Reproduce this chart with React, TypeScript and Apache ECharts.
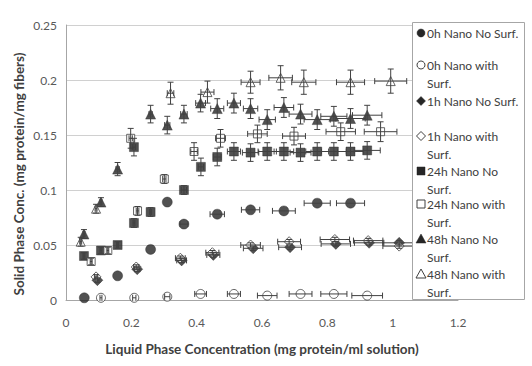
import React, { useEffect, useRef } from "react";
import * as echarts from "echarts";

const xTicks = [0, 0.2, 0.4, 0.6, 0.8, 1, 1.2];
const yTicks = [0, 0.05, 0.1, 0.15, 0.2, 0.25];

// 0h Nano No Surf.
const x0n = [0.056, 0.158, 0.259, 0.31, 0.361, 0.463, 0.565, 0.667, 0.769, 0.871];
const y0n = [0.002, 0.022, 0.046, 0.089, 0.069, 0.078, 0.082, 0.081, 0.088, 0.088];
const xe0n = [0, 0, 0, 0, 0.012, 0.022, 0.028, 0.035, 0.04, 0.043];
const ye0n = [0, 0, 0, 0, 0, 0, 0, 0, 0, 0];

// 0h Nano with Surf.
const x0s = [0.107, 0.209, 0.31, 0.412, 0.514, 0.616, 0.718, 0.82, 0.922];
const y0s = [0.002, 0.002, 0.003, 0.0055, 0.0055, 0.004, 0.0055, 0.0055, 0.004];
const xe0s = [0.003, 0.005, 0.008, 0.018, 0.02, 0.03, 0.035, 0.04, 0.047];
const ye0s = [0, 0, 0, 0, 0, 0, 0, 0, 0];

// 1h Nano No Surf.
const x1n = [0.096, 0.218, 0.354, 0.451, 0.573, 0.686, 0.826, 0.928, 1.02];
const y1n = [0.018, 0.028, 0.036, 0.041, 0.047, 0.048, 0.051, 0.052, 0.052];
const xe1n = [0.005, 0.008, 0.015, 0.02, 0.03, 0.035, 0.045, 0.045, 0.05];
const ye1n = [0.002, 0.002, 0.002, 0.002, 0.002, 0.002, 0.002, 0.002, 0.002];

// 1h Nano with Surf.
const x1s = [0.092, 0.215, 0.35, 0.448, 0.565, 0.683, 0.823, 0.925, 1.02];
const y1s = [0.021, 0.03, 0.038, 0.043, 0.05, 0.053, 0.055, 0.054, 0.049];
const xe1s = [0.005, 0.008, 0.015, 0.02, 0.03, 0.035, 0.045, 0.045, 0.05];
const ye1s = [0.002, 0.002, 0.002, 0.002, 0.002, 0.002, 0.002, 0.002, 0.002];

// 24h Nano No Surf.
const x24n = [0.055, 0.107, 0.158, 0.208, 0.259, 0.361, 0.208, 0.413, 0.463, 0.514, 0.565, 0.616, 0.667, 0.718, 0.769, 0.82, 0.871, 0.922];
const y24n = [0.04, 0.045, 0.05, 0.07, 0.08, 0.1, 0.139, 0.121, 0.13, 0.135, 0.134, 0.135, 0.135, 0.134, 0.135, 0.135, 0.135, 0.136];
const xe24n = [0.003, 0.003, 0.003, 0.003, 0.003, 0.008, 0.005, 0.008, 0.012, 0.02, 0.025, 0.028, 0.03, 0.032, 0.035, 0.038, 0.04, 0.04];
const ye24n = [0.003, 0.003, 0.003, 0.004, 0.004, 0.004, 0.008, 0.008, 0.008, 0.008, 0.008, 0.008, 0.008, 0.008, 0.008, 0.008, 0.008, 0.008];

// 24h Nano with Surf.
const x24s = [0.077, 0.128, 0.219, 0.301, 0.198, 0.392, 0.473, 0.586, 0.698, 0.841, 0.963];
const y24s = [0.035, 0.045, 0.081, 0.11, 0.147, 0.135, 0.147, 0.151, 0.149, 0.153, 0.153];
const xe24s = [0.003, 0.003, 0.004, 0.005, 0.005, 0.01, 0.015, 0.03, 0.035, 0.045, 0.05];
const ye24s = [0.003, 0.003, 0.004, 0.004, 0.009, 0.008, 0.008, 0.008, 0.008, 0.008, 0.009];

// 48h Nano No Surf.
const x48n = [0.055, 0.107, 0.158, 0.259, 0.31, 0.361, 0.412, 0.463, 0.514, 0.565, 0.616, 0.667, 0.718, 0.769, 0.82, 0.871, 0.922];
const y48n = [0.06, 0.089, 0.119, 0.169, 0.159, 0.169, 0.179, 0.174, 0.179, 0.174, 0.164, 0.175, 0.169, 0.164, 0.167, 0.165, 0.168];
const xe48n = [0.003, 0.003, 0.005, 0.005, 0.008, 0.01, 0.015, 0.02, 0.02, 0.022, 0.025, 0.03, 0.035, 0.04, 0.04, 0.045, 0.045];
const ye48n = [0.004, 0.004, 0.006, 0.008, 0.008, 0.008, 0.008, 0.009, 0.009, 0.009, 0.009, 0.009, 0.009, 0.009, 0.009, 0.009, 0.009];

// 48h Nano with Surf.
const x48s = [0.045, 0.092, 0.32, 0.433, 0.565, 0.657, 0.728, 0.871, 0.994];
const y48s = [0.053, 0.083, 0.188, 0.189, 0.198, 0.202, 0.198, 0.198, 0.199];
const xe48s = [0.003, 0.003, 0.01, 0.02, 0.029, 0.036, 0.037, 0.043, 0.049];
const ye48s = [0.004, 0.004, 0.01, 0.01, 0.01, 0.011, 0.011, 0.011, 0.011];

const seriesNames = [
  "0h Nano No Surf.",
  "0h Nano with Surf.",
  "1h Nano No Surf.",
  "1h Nano with Surf.",
  "24h Nano No Surf.",
  "24h Nano with Surf.",
  "48h Nano No Surf.",
  "48h Nano with Surf.",
];

const legendLines = [
  ["0h Nano No Surf."],
  ["0h Nano with", "Surf."],
  ["1h Nano No Surf."],
  ["1h Nano with", "Surf."],
  ["24h Nano No", "Surf."],
  ["24h Nano with", "Surf."],
  ["48h Nano No", "Surf."],
  ["48h Nano with", "Surf."],
];

const DARK = "#262626";
const LINE = "#404040";
const FONT = "Lato, 'Open Sans', sans-serif";

export default function App() {
  const ref = useRef<HTMLDivElement>(null);

  useEffect(() => {
    if (!ref.current) return;
    const chart = echarts.init(ref.current, undefined, { renderer: "svg" });

    const sets = [
      { x: x0n, y: y0n, xe: xe0n, ye: ye0n, symbol: "circle", size: 10, filled: true },
      { x: x0s, y: y0s, xe: xe0s, ye: ye0s, symbol: "circle", size: 9, filled: false },
      { x: x1n, y: y1n, xe: xe1n, ye: ye1n, symbol: "diamond", size: 11, filled: true },
      { x: x1s, y: y1s, xe: xe1s, ye: ye1s, symbol: "diamond", size: 10, filled: false },
      { x: x24n, y: y24n, xe: xe24n, ye: ye24n, symbol: "rect", size: 9, filled: true },
      { x: x24s, y: y24s, xe: xe24s, ye: ye24s, symbol: "rect", size: 8, filled: false },
      { x: x48n, y: y48n, xe: xe48n, ye: ye48n, symbol: "triangle", size: 10, filled: true },
      { x: x48s, y: y48s, xe: xe48s, ye: ye48s, symbol: "triangle", size: 9, filled: false },
    ];

    const series: any[] = [];
    sets.forEach((s, i) => {
      series.push({
        type: "scatter",
        name: seriesNames[i],
        symbol: s.symbol,
        symbolSize: s.size,
        z: 2,
        itemStyle: s.filled
          ? { color: DARK, borderColor: DARK, borderWidth: 0.5 }
          : { color: "#ffffff", borderColor: LINE, borderWidth: 1 },
        data: s.x.map((v, k) => [v, s.y[k]]),
      });
    });
    sets.forEach((s, i) => {
      series.push({
        type: "custom",
        name: seriesNames[i] + " err",
        z: 3,
        encode: { x: 0, y: 1 },
        data: s.x.map((v, k) => [v, s.y[k], s.xe[k], s.ye[k]]),
        renderItem: (params: any, api: any) => {
          const x = api.value(0);
          const y = api.value(1);
          const xe = api.value(2);
          const ye = api.value(3);
          const st = { stroke: LINE, lineWidth: 1, fill: null };
          const children: any[] = [];
          const cap = 3;
          if (xe > 0) {
            const l = api.coord([x - xe, y]);
            const r = api.coord([x + xe, y]);
            children.push({ type: "line", shape: { x1: l[0], y1: l[1], x2: r[0], y2: r[1] }, style: st });
            children.push({ type: "line", shape: { x1: l[0], y1: l[1] - cap, x2: l[0], y2: l[1] + cap }, style: st });
            children.push({ type: "line", shape: { x1: r[0], y1: r[1] - cap, x2: r[0], y2: r[1] + cap }, style: st });
          }
          if (ye > 0) {
            const t = api.coord([x, y + ye]);
            const b = api.coord([x, y - ye]);
            children.push({ type: "line", shape: { x1: t[0], y1: t[1], x2: b[0], y2: b[1] }, style: st });
            children.push({ type: "line", shape: { x1: t[0] - cap, y1: t[1], x2: t[0] + cap, y2: t[1] }, style: st });
            children.push({ type: "line", shape: { x1: b[0] - cap, y1: b[1], x2: b[0] + cap, y2: b[1] }, style: st });
          }
          return { type: "group", children };
        },
      });
    });

    // legend drawn with graphic
    const lx = 421;
    const tx = 427;
    const rowY = [33, 65, 101, 136, 171, 204, 239, 274];
    const lineGap = 18;
    const graphics: any[] = [
      {
        type: "rect",
        shape: { x: 412.5, y: 22.5, width: 112, height: 277 },
        style: { fill: "#ffffff", stroke: "#a6a6a6", lineWidth: 1 },
        z: 10,
      },
    ];
    const symStyle = (filled: boolean) =>
      filled ? { fill: DARK, stroke: DARK, lineWidth: 0.5 } : { fill: "#ffffff", stroke: LINE, lineWidth: 1 };
    rowY.forEach((yy, i) => {
      const filled = i % 2 === 0;
      const kind = Math.floor(i / 2);
      let shape: any;
      if (kind === 0) {
        shape = { type: "circle", shape: { cx: lx, cy: yy, r: 4 }, style: symStyle(filled), z: 11 };
      } else if (kind === 1) {
        shape = {
          type: "polygon",
          shape: { points: [[lx, yy - 4.5], [lx + 4.5, yy], [lx, yy + 4.5], [lx - 4.5, yy]] },
          style: symStyle(filled),
          z: 11,
        };
      } else if (kind === 2) {
        shape = { type: "rect", shape: { x: lx - 4, y: yy - 4, width: 8, height: 8 }, style: symStyle(filled), z: 11 };
      } else {
        shape = {
          type: "polygon",
          shape: { points: [[lx, yy - 5], [lx + 5, yy + 4], [lx - 5, yy + 4]] },
          style: symStyle(filled),
          z: 11,
        };
      }
      graphics.push(shape);
      legendLines[i].forEach((t, k) => {
        graphics.push({
          type: "text",
          x: tx,
          y: yy + k * lineGap,
          z: 11,
          style: {
            text: t,
            fill: "#404040",
            font: `12px ${FONT}`,
            verticalAlign: "middle",
          },
        });
      });
    });
    graphics.push({
      type: "text",
      x: 262,
      y: 349,
      style: {
        text: "Liquid Phase Concentration (mg protein/ml solution)",
        fill: "#404040",
        font: `bold 13.5px ${FONT}`,
        align: "center",
        verticalAlign: "middle",
      },
    });
    graphics.push({
      type: "text",
      x: 19,
      y: 174,
      rotation: Math.PI / 2,
      style: {
        text: "Solid Phase Conc. (mg protein/mg fibers)",
        fill: "#404040",
        font: `bold 13.5px ${FONT}`,
        align: "center",
        verticalAlign: "middle",
      },
    });

    chart.setOption({
      animation: false,
      backgroundColor: "#ffffff",
      grid: { left: 66, right: 74, top: 25, bottom: 66, containLabel: false },
      xAxis: {
        type: "value",
        min: xTicks[0],
        max: xTicks[xTicks.length - 1],
        interval: 0.2,
        axisLine: { show: true, lineStyle: { color: "#a6a6a6" } },
        axisTick: { show: false },
        splitLine: { show: false },
        axisLabel: {
          color: "#595959",
          fontSize: 12,
          fontFamily: FONT,
          margin: 16,
          formatter: (v: number) => String(Math.round(v * 10) / 10),
        },
      },
      yAxis: {
        type: "value",
        min: yTicks[0],
        max: yTicks[yTicks.length - 1],
        interval: 0.05,
        axisLine: { show: true, lineStyle: { color: "#a6a6a6" } },
        axisTick: { show: false },
        splitLine: { show: true, lineStyle: { color: "#d0d0d0" } },
        axisLabel: {
          color: "#595959",
          fontSize: 12,
          fontFamily: FONT,
          margin: 9,
          formatter: (v: number) => String(Math.round(v * 100) / 100),
        },
      },
      series,
      graphic: graphics,
    });

    return () => chart.dispose();
  }, []);

  return <div ref={ref} style={{ width: 532, height: 366, position: "absolute", left: 0, top: 0 }} />;
}
